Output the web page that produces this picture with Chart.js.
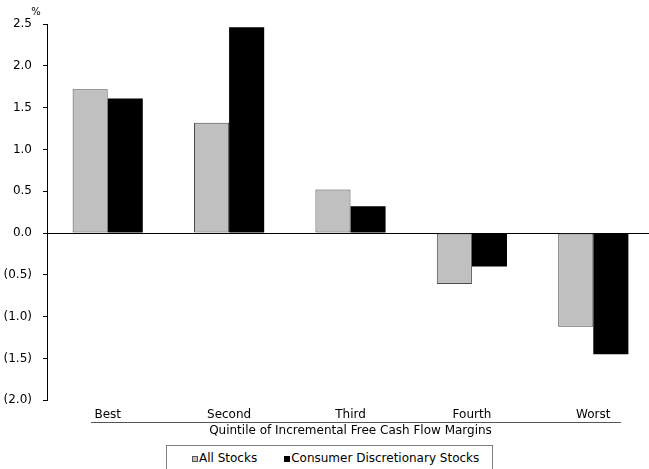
<!DOCTYPE html>
<html>
<head>
<meta charset="utf-8">
<title>Quintile of Incremental Free Cash Flow Margins</title>
<script src="https://cdn.jsdelivr.net/npm/chart.js@4.4.1/dist/chart.umd.min.js"></script>
<style>
  html, body { margin: 0; padding: 0; background: #ffffff; }
  #wrap { position: relative; width: 649px; height: 469px; overflow: hidden; background: #ffffff; }
  #chart { position: absolute; left: 0; top: 0; }
  #legend {
    position: absolute; left: 166px; top: 445px; width: 327px; height: 30px;
    border: 1px solid #808080; background: #ffffff;
    font-family: "DejaVu Sans", sans-serif; font-size: 12px; color: #000000;
    box-sizing: border-box; padding: 5px 0 0 25px; line-height: 14px; white-space: nowrap;
  }
  .sw { display: inline-block; width: 6px; height: 6px; box-sizing: border-box; margin-right: 1px; vertical-align: 0px; }
  .sw.grey { background: #c0c0c0; border: 1px solid #555555; }
  .sw.black { background: #000000; }
  .item { display: inline-block; }
  .item + .item { margin-left: 27px; }
</style>
</head>
<body>
<div id="wrap">
  <canvas id="chart" width="654" height="469"></canvas>
  <div id="legend">
    <span class="item"><span class="sw grey"></span>All Stocks</span><span class="item"><span class="sw black"></span>Consumer Discretionary Stocks</span>
  </div>
</div>
<script>
// Quintile buckets and the average return (%) for each group
const categories = ['Best', 'Second', 'Third', 'Fourth', 'Worst'];
const allStocks = [1.72, 1.32, 0.52, -0.61, -1.12];
const consumerDiscretionary = [1.61, 2.46, 0.32, -0.40, -1.45];

const seriesNames = ['All Stocks', 'Consumer Discretionary Stocks'];
const xAxisTitle = 'Quintile of Incremental Free Cash Flow Margins';
const unitLabel = '%';
const yMin = -2.0;
const yMax = 2.5;
const yStep = 0.5;

const FONT = '"DejaVu Sans", sans-serif';

// Negative values are shown in accounting style, e.g. (0.5)
function formatTick(v) {
  const r = Math.round(v * 10) / 10;
  return r < 0 ? '(' + Math.abs(r).toFixed(1) + ')' : r.toFixed(1);
}

// Unit marker above the value axis and the rule under the category labels
const decorations = {
  id: 'decorations',
  afterDraw(chart) {
    const ctx = chart.ctx;
    const area = chart.chartArea;
    const y = chart.scales.y;
    ctx.save();
    ctx.fillStyle = '#000000';
    ctx.font = '10px ' + FONT;
    ctx.textAlign = 'center';
    ctx.textBaseline = 'alphabetic';
    ctx.fillText(unitLabel, y.right - 11, area.top - 9);

    ctx.strokeStyle = '#555555';
    ctx.lineWidth = 1;
    ctx.beginPath();
    ctx.moveTo(area.left + 44, Math.round(area.bottom + 22) + 0.5);
    ctx.lineTo(area.right - 33, Math.round(area.bottom + 22) + 0.5);
    ctx.stroke();
    ctx.restore();
  }
};

new Chart(document.getElementById('chart'), {
  type: 'bar',
  data: {
    labels: categories,
    datasets: [
      {
        label: seriesNames[0],
        data: allStocks,
        backgroundColor: '#c0c0c0',
        borderColor: '#4a4a4a',
        borderWidth: 1,
        borderSkipped: false
      },
      {
        label: seriesNames[1],
        data: consumerDiscretionary,
        backgroundColor: '#000000',
        borderColor: '#000000',
        borderWidth: 0
      }
    ]
  },
  options: {
    responsive: false,
    animation: false,
    devicePixelRatio: 1,
    layout: { padding: { left: 0, top: 24, right: 0, bottom: 26 } },
    datasets: { bar: { categoryPercentage: 0.578, barPercentage: 1.0 } },
    plugins: {
      legend: { display: false },
      tooltip: { enabled: false },
      title: { display: false }
    },
    scales: {
      x: {
        type: 'category',
        grid: { display: false, drawTicks: false },
        border: { display: false },
        ticks: {
          color: '#000000',
          font: { family: FONT, size: 12 },
          padding: 7,
          maxRotation: 0,
          autoSkip: false
        },
        title: {
          display: true,
          text: xAxisTitle,
          color: '#000000',
          font: { family: FONT, size: 12 },
          padding: { top: -5, bottom: 5 }
        }
      },
      y: {
        min: yMin,
        max: yMax,
        afterFit(scale) { scale.width = 47; },
        ticks: {
          stepSize: yStep,
          color: '#000000',
          font: { family: FONT, size: 12 },
          padding: 11,
          callback: (v) => formatTick(v)
        },
        grid: {
          drawTicks: true,
          tickLength: 4,
          tickColor: '#000000',
          drawOnChartArea: true,
          color: (c) => (c.tick && Math.abs(c.tick.value) < 1e-9 ? '#000000' : 'rgba(0,0,0,0)'),
          lineWidth: 1
        },
        border: { display: true, color: '#000000', width: 1 }
      }
    }
  },
  plugins: [decorations]
});
</script>
</body>
</html>
